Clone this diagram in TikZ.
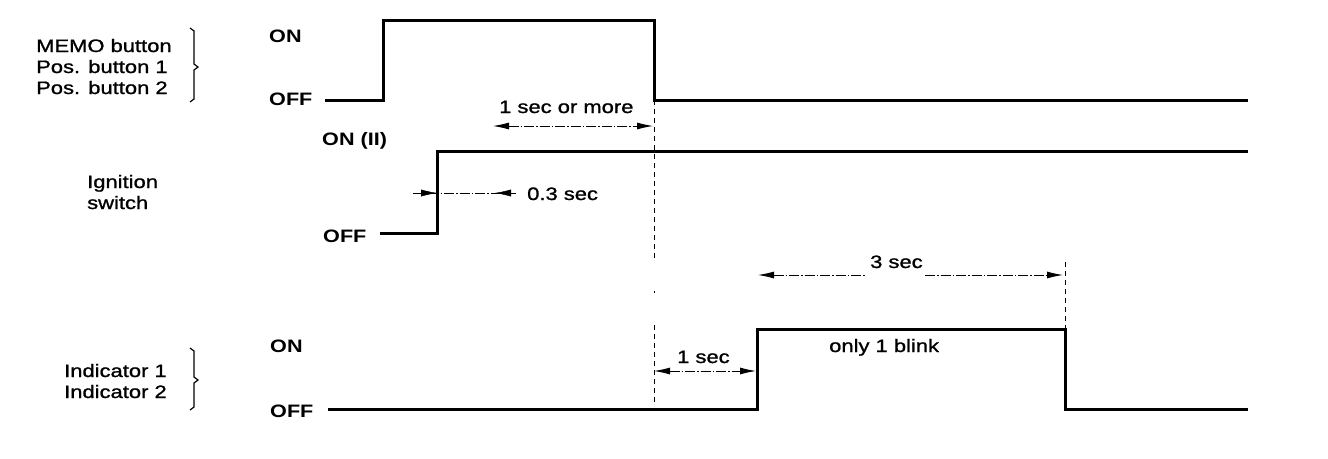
\documentclass[tikz,border=0pt]{standalone}
\usepackage{fontspec}
\setmainfont{Liberation Sans}[FakeStretch=1.22]
\newfontfamily\dgfont{Liberation Sans}[FakeStretch=1.22,FakeBold=1.2]
\newfontfamily\dgbold{Liberation Sans Bold}[FakeStretch=1.2]
\usetikzlibrary{arrows.meta}
\begin{document}
\begin{tikzpicture}[x=1pt,y=-1pt,
  sig/.style={line width=3pt, line join=miter},
  dim/.style={line width=0.9pt, dash pattern=on 10pt off 2pt on 1.5pt off 2pt},
  vdash/.style={line width=0.9pt, dash pattern=on 5pt off 4pt},
  dimtips/.style={{Latex[length=16pt,width=7pt]}-{Latex[length=16pt,width=7pt]}},
  onetip/.style={-{Latex[length=16pt,width=7pt]}},
  brk/.style={line width=1.2pt},
  lbl/.style={anchor=base west, inner sep=0pt, font=\dgfont\fontsize{18}{21}\selectfont},
  st/.style={anchor=base west, inner sep=0pt, font=\dgbold\fontsize{18}{21}\selectfont}]
\useasboundingbox (0,0) rectangle (1328,458);

% signal traces
\draw[sig] (325,100) -- (383,100) -- (383,20) -- (654,20) -- (654,100) -- (1248,100);
\draw[sig] (380,233) -- (437,233) -- (437,151) -- (1248,151);
\draw[sig] (328,409) -- (757,409) -- (757,329) -- (1065,329) -- (1065,409) -- (1248,409);

% dashed guides
\coordinate (g1a) at (654,100);
\coordinate (g1b) at (654,258);
\coordinate (g1c) at (654,325);
\coordinate (g1d) at (654,402);
\draw[vdash] (g1a) -- (g1b);
\fill (653.5,291) rectangle (654.5,293);
\draw[vdash] (g1c) -- (g1d);
\coordinate (g2a) at (1065,262);
\coordinate (g2b) at (1065,329);
\draw[vdash] (g2a) -- (g2b);

% dimension arrows
\coordinate (d1a) at (493,126);
\coordinate (d1b) at (653,126);
\draw[dim, dimtips] (d1a) -- (d1b);

\coordinate (d2a) at (413,193);
\coordinate (d2b) at (517,193);
\draw[dim] (d2a) -- (d2b);
\draw[onetip] (416,193) -- (437,193);
\draw[onetip] (513,193) -- (495,193);

\coordinate (d3a) at (654,371);
\coordinate (d3b) at (756,371);
\draw[dim, dimtips] (d3a) -- (d3b);

\coordinate (d4a) at (758,275);
\coordinate (d4b) at (1063,275);
\coordinate (d4c) at (865,275);
\coordinate (d4d) at (925,275);
\draw[dim, {Latex[length=16pt,width=7pt]}-] (d4a) -- (d4c);
\draw[dim, -{Latex[length=16pt,width=7pt]}] (d4d) -- (d4b);

% braces
\draw[brk] (190,28) -- (194,31) -- (194,64) -- (198,67) -- (194,70) -- (194,99) -- (190,102);
\draw[brk] (190,348) -- (194,351) -- (194,377) -- (198,380) -- (194,383) -- (194,407) -- (190,410);

% signal names
\node[lbl] (m1) at (36,52) {MEMO button};
\node[lbl] (m2) at (36,73) {Pos. button 1};
\node[lbl] (m3) at (36,94) {Pos. button 2};
\node[lbl] (ig1) at (87,188) {Ignition};
\node[lbl] (ig2) at (87,209) {switch};
\node[lbl] (in1) at (64,377) {Indicator 1};
\node[lbl] (in2) at (64,398) {Indicator 2};

% state labels
\node[st] (on1) at (269,42) {ON};
\node[st] (off1) at (269,105) {OFF};
\node[st] (on2) at (322,145) {ON (II)};
\node[st] (off2) at (323,242) {OFF};
\node[st] (on3) at (270,352) {ON};
\node[st] (off3) at (270,417) {OFF};

% timing texts
\node[lbl] (t1) at (499,113) {1 sec or more};
\node[lbl] (t2) at (527,200) {0.3 sec};
\node[lbl] (t3) at (870,268) {3 sec};
\node[lbl] (t4) at (829,352) {only 1 blink};
\node[lbl] (t5) at (677,363) {1 sec};
\end{tikzpicture}
\end{document}
